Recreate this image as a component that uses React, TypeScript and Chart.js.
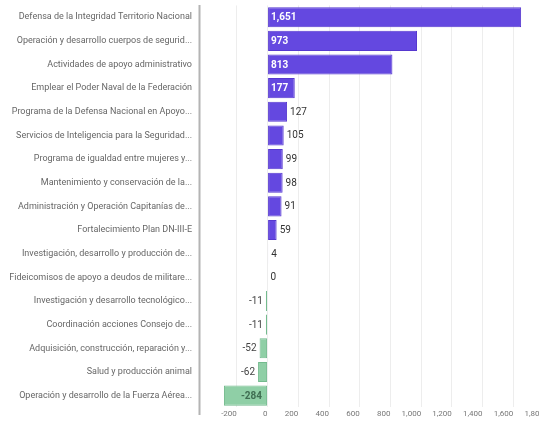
import React, { useEffect, useRef } from "react";
import { Chart, registerables } from "chart.js";

Chart.register(...registerables);

const CATEGORIES: string[] = [
  "Defensa de la Integridad Territorio Nacional",
  "Operación y desarrollo cuerpos de segurid...",
  "Actividades de apoyo administrativo",
  "Emplear el Poder Naval de la Federación",
  "Programa de la Defensa Nacional en Apoyo...",
  "Servicios de Inteligencia para la Seguridad...",
  "Programa de igualdad entre mujeres y...",
  "Mantenimiento y conservación de la...",
  "Administración y Operación Capitanías de...",
  "Fortalecimiento Plan DN-III-E",
  "Investigación, desarrollo y producción de...",
  "Fideicomisos de apoyo a deudos de militare...",
  "Investigación y desarrollo tecnológico...",
  "Coordinación acciones Consejo de...",
  "Adquisición, construcción, reparación y...",
  "Salud y producción animal",
  "Operación y desarrollo de la Fuerza Aérea...",
];

const VALUES: number[] = [1651, 973, 813, 177, 127, 105, 99, 98, 91, 59, 4, 0, -11, -11, -52, -62, -284];

const X_TICKS: number[] = [-200, 0, 200, 400, 600, 800, 1000, 1200, 1400, 1600, 1800];

const POS_COLOR = "#6448e0";
const POS_BORDER = "#5638cf";
const NEG_COLOR = "#8fcfa6";
const NEG_BORDER = "#74bb8e";

const fmt = (v: number) => Number(v).toLocaleString("en-US");

const valueLabels = {
  id: "valueLabels",
  afterDatasetsDraw(chart: any) {
    const ctx = chart.ctx;
    const meta = chart.getDatasetMeta(0);
    ctx.save();
    ctx.textBaseline = "middle";
    meta.data.forEach((bar: any, i: number) => {
      const v = VALUES[i];
      const { x, y, base } = bar.getProps(["x", "y", "base"], true);
      const w = Math.abs(x - base);
      const txt = fmt(v);
      if (v >= 0) {
        if (w >= 24) {
          ctx.font = "bold 10px Roboto, 'Liberation Sans', sans-serif";
          ctx.fillStyle = "#ffffff";
          ctx.textAlign = "left";
          ctx.fillText(txt, base + 3, y + 0.5);
        } else {
          ctx.font = "10px Roboto, 'Liberation Sans', sans-serif";
          ctx.fillStyle = "#333333";
          ctx.textAlign = "left";
          ctx.fillText(txt, x + 3, y + 0.5);
        }
      } else {
        if (w >= 24) {
          ctx.font = "bold 10px Roboto, 'Liberation Sans', sans-serif";
          ctx.fillStyle = "#3f6e52";
          ctx.textAlign = "right";
          ctx.fillText(txt, base - 5, y + 0.5);
        } else {
          ctx.font = "10px Roboto, 'Liberation Sans', sans-serif";
          ctx.fillStyle = "#444444";
          ctx.textAlign = "right";
          ctx.fillText(txt, x - 3, y + 0.5);
        }
      }
    });
    ctx.restore();
  },
};

const sideLine = {
  id: "sideLine",
  afterDraw(chart: any) {
    const ctx = chart.ctx;
    const x = chart.chartArea.left - 0.5;
    ctx.save();
    ctx.strokeStyle = "#b4b4b4";
    ctx.lineWidth = 2;
    ctx.beginPath();
    ctx.moveTo(x, 5);
    ctx.lineTo(x, chart.height - 6);
    ctx.stroke();
    ctx.restore();
  },
};

export default function App() {
  const ref = useRef<HTMLCanvasElement | null>(null);

  useEffect(() => {
    if (!ref.current) return;
    const chart = new Chart(ref.current, {
      type: "bar",
      data: {
        labels: CATEGORIES,
        datasets: [
          {
            data: VALUES,
            backgroundColor: VALUES.map((v) => (v >= 0 ? POS_COLOR : NEG_COLOR)),
            borderColor: VALUES.map((v) => (v >= 0 ? POS_BORDER : NEG_BORDER)),
            borderWidth: 1,
            borderSkipped: false,
            barPercentage: 0.85,
            categoryPercentage: 1,
          },
        ],
      },
      options: {
        indexAxis: "y",
        responsive: false,
        animation: false,
        devicePixelRatio: 1,
        layout: { padding: { top: 2, right: 0, bottom: 0, left: 0 } },
        plugins: {
          legend: { display: false },
          tooltip: { enabled: false },
        },
        scales: {
          x: {
            type: "linear",
            min: -440,
            max: 1800,
            afterBuildTicks: (scale: any) => {
              scale.ticks = X_TICKS.map((v) => ({ value: v }));
            },
            grid: { color: "rgba(0,0,0,0.07)", drawTicks: false },
            border: { display: false },
            ticks: {
              align: "end",
              padding: 2,
              maxRotation: 0,
              autoSkip: false,
              color: "#777777",
              font: { size: 8, family: "Roboto, 'Liberation Sans', sans-serif" },
              callback: (v: any) => fmt(Number(v)),
            },
          },
          y: {
            grid: { display: false, drawTicks: true, tickLength: 8 },
            border: { display: false },
            afterFit: (scale: any) => {
              scale.width = 200;
            },
            ticks: {
              padding: 0,
              autoSkip: false,
              color: "#666666",
              font: { size: 9, family: "Roboto, 'Liberation Sans', sans-serif" },
            },
          },
        },
      },
      plugins: [valueLabels, sideLine],
    });
    return () => chart.destroy();
  }, []);

  return (
    <div style={{ position: "fixed", left: 0, top: 0, width: 546, height: 421, background: "#fff" }}>
      <canvas ref={ref} width={546} height={421} style={{ width: 546, height: 421, display: "block" }} />
    </div>
  );
}
